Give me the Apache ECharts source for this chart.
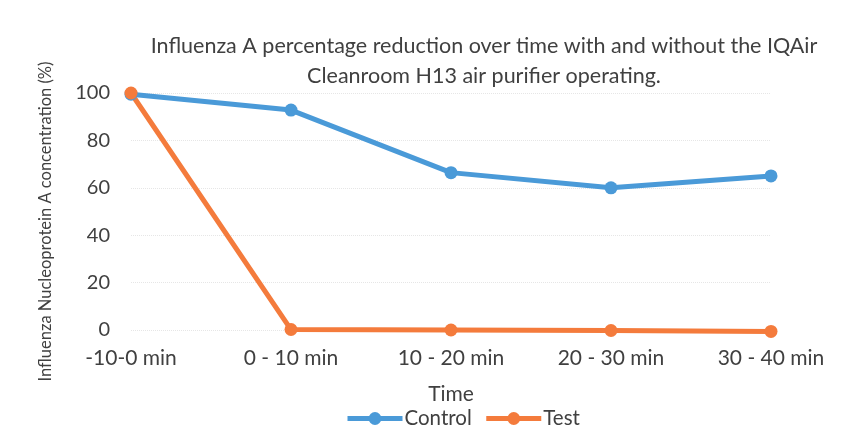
<!DOCTYPE html>
<html><head><meta charset="utf-8">
<script src="https://cdn.jsdelivr.net/npm/echarts@6/dist/echarts.min.js"></script>
<style>html,body{margin:0;padding:0;background:#fff}#c{width:855px;height:436px}</style>
</head><body><div id="c"></div>
<script>
const categories = ['-10-0 min', '0 - 10 min', '10 - 20 min', '20 - 30 min', '30 - 40 min'];
const controlValues = [99.5, 92.8, 66.4, 60.0, 65.0];
const testValues = [100, 0.2, 0, -0.2, -0.6];
const yTicks = [0, 20, 40, 60, 80, 100];
const titleText = 'Influenza A percentage reduction over time with and without the IQAir\nCleanroom H13 air purifier operating.';

const chart = echarts.init(document.getElementById('c'));
const font = 'Lato';
const txt = '#404040';
chart.setOption({
  backgroundColor: '#fff',
  animation: false,
  title: {
    text: titleText, left: 479, top: 26, textAlign: 'center',
    textStyle: {fontFamily: font, fontSize: 21.5, fontWeight: 'normal', color: txt, lineHeight: 30, align: 'center'}
  },
  legend: {
    left: 340, top: 403, itemWidth: 55, itemHeight: 16, itemGap: 12,
    lineStyle: {width: 5},
    textStyle: {fontFamily: font, fontSize: 20.5, color: txt, padding: [0, 0, 0, -3]},
    data: ['Control', 'Test']
  },
  grid: {left: 131, right: 84, top: 93, bottom: 106, containLabel: false},
  xAxis: {
    type: 'category', data: categories, boundaryGap: false,
    name: 'Time', nameLocation: 'middle', nameGap: 54,
    nameTextStyle: {fontFamily: font, fontSize: 21, color: txt},
    axisLine: {show: false}, axisTick: {show: false},
    axisLabel: {fontFamily: font, fontSize: 21, color: txt, margin: 18}
  },
  yAxis: {
    type: 'value', min: 0, max: 100, interval: 20,
    name: 'Influenza Nucleoprotein A concentration (%)', nameLocation: 'middle', nameGap: 77,
    nameTextStyle: {fontFamily: font, fontSize: 16.5, color: txt, padding: [0, 20, 0, 0]},
    axisLine: {show: false}, axisTick: {show: false},
    axisLabel: {fontFamily: font, fontSize: 20, color: txt, margin: 21,
      formatter: v => yTicks.includes(v) ? String(v) : ''},
    splitLine: {lineStyle: {color: '#e6e6e6', type: 'dotted', width: 1}}
  },
  series: [
    {name: 'Control', type: 'line', data: controlValues, color: '#4a9ad8', clip: false,
     lineStyle: {width: 5}, symbol: 'circle', symbolSize: 13, itemStyle: {color: '#4a9ad8'}},
    {name: 'Test', type: 'line', data: testValues, color: '#f47b3c', clip: false,
     lineStyle: {width: 5}, symbol: 'circle', symbolSize: 13, itemStyle: {color: '#f47b3c'}}
  ]
});
</script></body></html>
